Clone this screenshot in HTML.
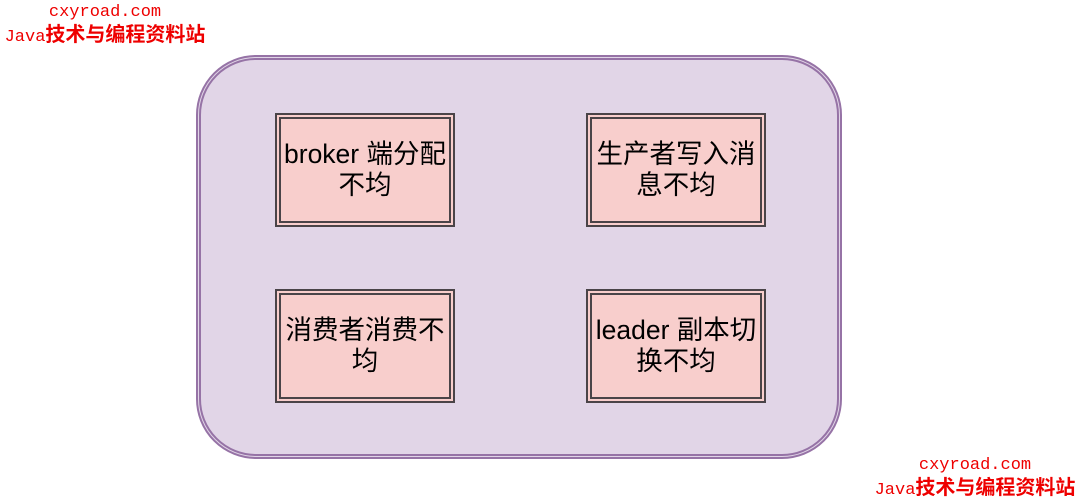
<!DOCTYPE html>
<html><head><meta charset="utf-8"><style>
body{margin:0;width:1080px;height:500px;background:#fff;position:relative;overflow:hidden;font-family:"Liberation Sans","Noto Sans CJK SC",sans-serif}
.outer{position:absolute;left:196px;top:55px;width:636px;height:394px;border:5px double #9673a6;border-radius:60px;background:#e1d5e7}
.b{position:absolute;width:168px;height:102px;border:6px double #4a4448;background:#f8cecc;display:flex;align-items:center;justify-content:center;text-align:center;font-size:26.5px;line-height:31px;color:#000;box-sizing:content-box;white-space:nowrap}
.w{position:absolute;color:#e00;text-align:center;font-family:"Liberation Mono","WenQuanYi Zen Hei",monospace;font-size:17px;line-height:20px;white-space:nowrap}
.w b{font-family:"WenQuanYi Zen Hei","Noto Sans CJK SC",sans-serif;font-weight:bold;font-size:20px}
</style></head><body>
<div class="w" style="left:0;top:3px;width:210px">cxyroad.com<br>Java<b>技术与编程资料站</b></div>
<div class="w" style="left:870px;top:456px;width:210px">cxyroad.com<br>Java<b>技术与编程资料站</b></div>
<div class="outer"></div>
<div class="b" style="left:275px;top:113px">broker 端分配<br>不均</div>
<div class="b" style="left:586px;top:113px">生产者写入消<br>息不均</div>
<div class="b" style="left:275px;top:289px">消费者消费不<br>均</div>
<div class="b" style="left:586px;top:289px">leader 副本切<br>换不均</div>
</body></html>
